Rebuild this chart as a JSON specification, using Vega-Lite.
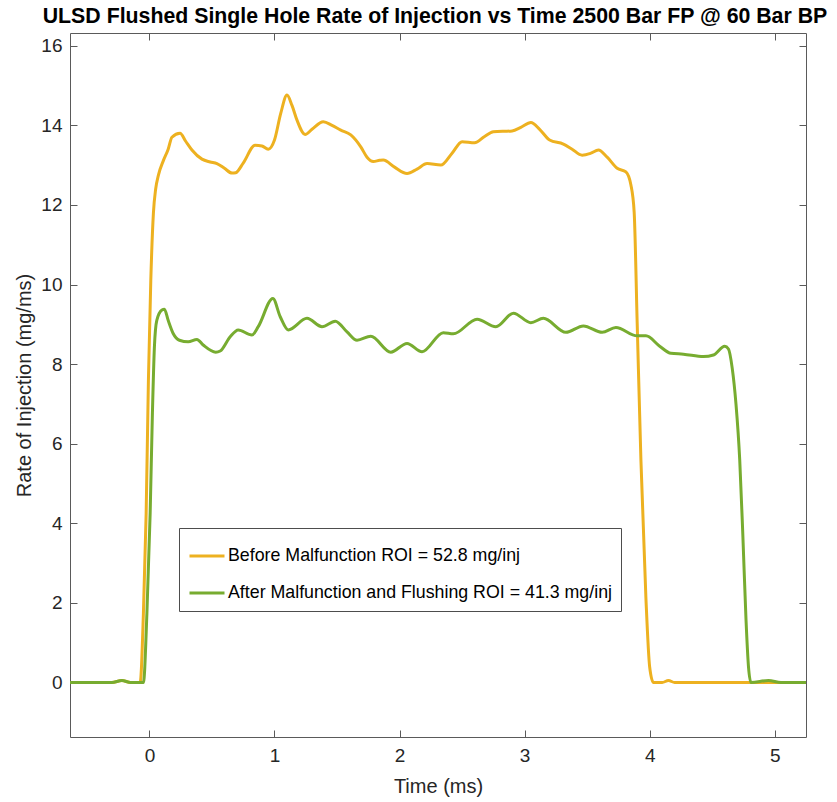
{
  "$schema": "https://vega.github.io/schema/vega-lite/v6.json",
  "width": 736,
  "height": 704,
  "autosize": {"type": "none"},
  "padding": {"left": 70, "top": 33, "right": 31, "bottom": 65},
  "background": "white",
  "title": {
    "text": "ULSD Flushed Single Hole Rate of Injection vs Time 2500 Bar FP @ 60 Bar BP",
    "font": "Liberation Sans",
    "fontSize": 21.3,
    "fontWeight": "bold",
    "color": "#000000",
    "anchor": "middle",
    "dx": -3,
    "offset": 5
  },
  "data": {
    "values": [
      {"series": "Before Malfunction ROI = 52.8 mg/inj", "t": -0.635, "rate": 0},
      {"series": "Before Malfunction ROI = 52.8 mg/inj", "t": -0.3, "rate": 0},
      {"series": "Before Malfunction ROI = 52.8 mg/inj", "t": -0.22, "rate": 0.05},
      {"series": "Before Malfunction ROI = 52.8 mg/inj", "t": -0.15, "rate": 0},
      {"series": "Before Malfunction ROI = 52.8 mg/inj", "t": -0.074, "rate": 0},
      {"series": "Before Malfunction ROI = 52.8 mg/inj", "t": -0.048, "rate": 1.74},
      {"series": "Before Malfunction ROI = 52.8 mg/inj", "t": -0.026, "rate": 4.26},
      {"series": "Before Malfunction ROI = 52.8 mg/inj", "t": -0.008, "rate": 7.6},
      {"series": "Before Malfunction ROI = 52.8 mg/inj", "t": 0.011, "rate": 10.1},
      {"series": "Before Malfunction ROI = 52.8 mg/inj", "t": 0.032, "rate": 11.8},
      {"series": "Before Malfunction ROI = 52.8 mg/inj", "t": 0.05, "rate": 12.4},
      {"series": "Before Malfunction ROI = 52.8 mg/inj", "t": 0.072, "rate": 12.75},
      {"series": "Before Malfunction ROI = 52.8 mg/inj", "t": 0.11, "rate": 13.1},
      {"series": "Before Malfunction ROI = 52.8 mg/inj", "t": 0.15, "rate": 13.4},
      {"series": "Before Malfunction ROI = 52.8 mg/inj", "t": 0.18, "rate": 13.7},
      {"series": "Before Malfunction ROI = 52.8 mg/inj", "t": 0.245, "rate": 13.8},
      {"series": "Before Malfunction ROI = 52.8 mg/inj", "t": 0.29, "rate": 13.6},
      {"series": "Before Malfunction ROI = 52.8 mg/inj", "t": 0.34, "rate": 13.38},
      {"series": "Before Malfunction ROI = 52.8 mg/inj", "t": 0.42, "rate": 13.15},
      {"series": "Before Malfunction ROI = 52.8 mg/inj", "t": 0.486, "rate": 13.08},
      {"series": "Before Malfunction ROI = 52.8 mg/inj", "t": 0.54, "rate": 13.04},
      {"series": "Before Malfunction ROI = 52.8 mg/inj", "t": 0.6, "rate": 12.92},
      {"series": "Before Malfunction ROI = 52.8 mg/inj", "t": 0.66, "rate": 12.8},
      {"series": "Before Malfunction ROI = 52.8 mg/inj", "t": 0.69, "rate": 12.81},
      {"series": "Before Malfunction ROI = 52.8 mg/inj", "t": 0.75, "rate": 13.05},
      {"series": "Before Malfunction ROI = 52.8 mg/inj", "t": 0.845, "rate": 13.5},
      {"series": "Before Malfunction ROI = 52.8 mg/inj", "t": 0.9, "rate": 13.48},
      {"series": "Before Malfunction ROI = 52.8 mg/inj", "t": 0.95, "rate": 13.4},
      {"series": "Before Malfunction ROI = 52.8 mg/inj", "t": 1.0, "rate": 13.63},
      {"series": "Before Malfunction ROI = 52.8 mg/inj", "t": 1.05, "rate": 14.3},
      {"series": "Before Malfunction ROI = 52.8 mg/inj", "t": 1.1, "rate": 14.76},
      {"series": "Before Malfunction ROI = 52.8 mg/inj", "t": 1.14, "rate": 14.5},
      {"series": "Before Malfunction ROI = 52.8 mg/inj", "t": 1.18, "rate": 14.13},
      {"series": "Before Malfunction ROI = 52.8 mg/inj", "t": 1.245, "rate": 13.77},
      {"series": "Before Malfunction ROI = 52.8 mg/inj", "t": 1.3, "rate": 13.9},
      {"series": "Before Malfunction ROI = 52.8 mg/inj", "t": 1.39, "rate": 14.09},
      {"series": "Before Malfunction ROI = 52.8 mg/inj", "t": 1.46, "rate": 14.0},
      {"series": "Before Malfunction ROI = 52.8 mg/inj", "t": 1.53, "rate": 13.88},
      {"series": "Before Malfunction ROI = 52.8 mg/inj", "t": 1.61, "rate": 13.76},
      {"series": "Before Malfunction ROI = 52.8 mg/inj", "t": 1.69, "rate": 13.46},
      {"series": "Before Malfunction ROI = 52.8 mg/inj", "t": 1.74, "rate": 13.2},
      {"series": "Before Malfunction ROI = 52.8 mg/inj", "t": 1.79, "rate": 13.09},
      {"series": "Before Malfunction ROI = 52.8 mg/inj", "t": 1.84, "rate": 13.12},
      {"series": "Before Malfunction ROI = 52.8 mg/inj", "t": 1.87, "rate": 13.13},
      {"series": "Before Malfunction ROI = 52.8 mg/inj", "t": 1.96, "rate": 12.95},
      {"series": "Before Malfunction ROI = 52.8 mg/inj", "t": 2.06, "rate": 12.79},
      {"series": "Before Malfunction ROI = 52.8 mg/inj", "t": 2.14, "rate": 12.9},
      {"series": "Before Malfunction ROI = 52.8 mg/inj", "t": 2.22, "rate": 13.04},
      {"series": "Before Malfunction ROI = 52.8 mg/inj", "t": 2.33, "rate": 13.0},
      {"series": "Before Malfunction ROI = 52.8 mg/inj", "t": 2.42, "rate": 13.3},
      {"series": "Before Malfunction ROI = 52.8 mg/inj", "t": 2.5, "rate": 13.59},
      {"series": "Before Malfunction ROI = 52.8 mg/inj", "t": 2.6, "rate": 13.56},
      {"series": "Before Malfunction ROI = 52.8 mg/inj", "t": 2.68, "rate": 13.72},
      {"series": "Before Malfunction ROI = 52.8 mg/inj", "t": 2.75, "rate": 13.84},
      {"series": "Before Malfunction ROI = 52.8 mg/inj", "t": 2.9, "rate": 13.86},
      {"series": "Before Malfunction ROI = 52.8 mg/inj", "t": 2.97, "rate": 13.95},
      {"series": "Before Malfunction ROI = 52.8 mg/inj", "t": 3.05, "rate": 14.07},
      {"series": "Before Malfunction ROI = 52.8 mg/inj", "t": 3.12, "rate": 13.9},
      {"series": "Before Malfunction ROI = 52.8 mg/inj", "t": 3.2, "rate": 13.63},
      {"series": "Before Malfunction ROI = 52.8 mg/inj", "t": 3.31, "rate": 13.53},
      {"series": "Before Malfunction ROI = 52.8 mg/inj", "t": 3.38, "rate": 13.4},
      {"series": "Before Malfunction ROI = 52.8 mg/inj", "t": 3.46, "rate": 13.25},
      {"series": "Before Malfunction ROI = 52.8 mg/inj", "t": 3.53, "rate": 13.3},
      {"series": "Before Malfunction ROI = 52.8 mg/inj", "t": 3.59, "rate": 13.38},
      {"series": "Before Malfunction ROI = 52.8 mg/inj", "t": 3.66, "rate": 13.2},
      {"series": "Before Malfunction ROI = 52.8 mg/inj", "t": 3.74, "rate": 12.92},
      {"series": "Before Malfunction ROI = 52.8 mg/inj", "t": 3.81, "rate": 12.83},
      {"series": "Before Malfunction ROI = 52.8 mg/inj", "t": 3.85, "rate": 12.5},
      {"series": "Before Malfunction ROI = 52.8 mg/inj", "t": 3.876, "rate": 11.82},
      {"series": "Before Malfunction ROI = 52.8 mg/inj", "t": 3.9, "rate": 9.05},
      {"series": "Before Malfunction ROI = 52.8 mg/inj", "t": 3.93, "rate": 5.59},
      {"series": "Before Malfunction ROI = 52.8 mg/inj", "t": 3.97, "rate": 2.12},
      {"series": "Before Malfunction ROI = 52.8 mg/inj", "t": 4.0, "rate": 0.39},
      {"series": "Before Malfunction ROI = 52.8 mg/inj", "t": 4.03, "rate": 0},
      {"series": "Before Malfunction ROI = 52.8 mg/inj", "t": 4.1, "rate": 0},
      {"series": "Before Malfunction ROI = 52.8 mg/inj", "t": 4.15, "rate": 0.05},
      {"series": "Before Malfunction ROI = 52.8 mg/inj", "t": 4.2, "rate": 0},
      {"series": "Before Malfunction ROI = 52.8 mg/inj", "t": 5.25, "rate": 0},
      {"series": "After Malfunction and Flushing ROI = 41.3 mg/inj", "t": -0.635, "rate": 0},
      {"series": "After Malfunction and Flushing ROI = 41.3 mg/inj", "t": -0.3, "rate": 0},
      {"series": "After Malfunction and Flushing ROI = 41.3 mg/inj", "t": -0.22, "rate": 0.05},
      {"series": "After Malfunction and Flushing ROI = 41.3 mg/inj", "t": -0.15, "rate": 0},
      {"series": "After Malfunction and Flushing ROI = 41.3 mg/inj", "t": -0.048, "rate": 0},
      {"series": "After Malfunction and Flushing ROI = 41.3 mg/inj", "t": -0.02, "rate": 1.74},
      {"series": "After Malfunction and Flushing ROI = 41.3 mg/inj", "t": 0.006, "rate": 4.26},
      {"series": "After Malfunction and Flushing ROI = 41.3 mg/inj", "t": 0.024, "rate": 6.77},
      {"series": "After Malfunction and Flushing ROI = 41.3 mg/inj", "t": 0.04, "rate": 8.44},
      {"series": "After Malfunction and Flushing ROI = 41.3 mg/inj", "t": 0.059, "rate": 9.1},
      {"series": "After Malfunction and Flushing ROI = 41.3 mg/inj", "t": 0.1, "rate": 9.36},
      {"series": "After Malfunction and Flushing ROI = 41.3 mg/inj", "t": 0.12, "rate": 9.38},
      {"series": "After Malfunction and Flushing ROI = 41.3 mg/inj", "t": 0.15, "rate": 9.1},
      {"series": "After Malfunction and Flushing ROI = 41.3 mg/inj", "t": 0.19, "rate": 8.77},
      {"series": "After Malfunction and Flushing ROI = 41.3 mg/inj", "t": 0.24, "rate": 8.6},
      {"series": "After Malfunction and Flushing ROI = 41.3 mg/inj", "t": 0.31, "rate": 8.56},
      {"series": "After Malfunction and Flushing ROI = 41.3 mg/inj", "t": 0.38, "rate": 8.62},
      {"series": "After Malfunction and Flushing ROI = 41.3 mg/inj", "t": 0.43, "rate": 8.48},
      {"series": "After Malfunction and Flushing ROI = 41.3 mg/inj", "t": 0.53, "rate": 8.3},
      {"series": "After Malfunction and Flushing ROI = 41.3 mg/inj", "t": 0.566, "rate": 8.33},
      {"series": "After Malfunction and Flushing ROI = 41.3 mg/inj", "t": 0.646, "rate": 8.69},
      {"series": "After Malfunction and Flushing ROI = 41.3 mg/inj", "t": 0.71, "rate": 8.86},
      {"series": "After Malfunction and Flushing ROI = 41.3 mg/inj", "t": 0.82, "rate": 8.73},
      {"series": "After Malfunction and Flushing ROI = 41.3 mg/inj", "t": 0.87, "rate": 8.94},
      {"series": "After Malfunction and Flushing ROI = 41.3 mg/inj", "t": 0.987, "rate": 9.65},
      {"series": "After Malfunction and Flushing ROI = 41.3 mg/inj", "t": 1.046, "rate": 9.19},
      {"series": "After Malfunction and Flushing ROI = 41.3 mg/inj", "t": 1.11, "rate": 8.86},
      {"series": "After Malfunction and Flushing ROI = 41.3 mg/inj", "t": 1.26, "rate": 9.15},
      {"series": "After Malfunction and Flushing ROI = 41.3 mg/inj", "t": 1.38, "rate": 8.94},
      {"series": "After Malfunction and Flushing ROI = 41.3 mg/inj", "t": 1.486, "rate": 9.08},
      {"series": "After Malfunction and Flushing ROI = 41.3 mg/inj", "t": 1.58, "rate": 8.81},
      {"series": "After Malfunction and Flushing ROI = 41.3 mg/inj", "t": 1.66, "rate": 8.6},
      {"series": "After Malfunction and Flushing ROI = 41.3 mg/inj", "t": 1.77, "rate": 8.7},
      {"series": "After Malfunction and Flushing ROI = 41.3 mg/inj", "t": 1.93, "rate": 8.3},
      {"series": "After Malfunction and Flushing ROI = 41.3 mg/inj", "t": 2.06, "rate": 8.52},
      {"series": "After Malfunction and Flushing ROI = 41.3 mg/inj", "t": 2.18, "rate": 8.31},
      {"series": "After Malfunction and Flushing ROI = 41.3 mg/inj", "t": 2.35, "rate": 8.79},
      {"series": "After Malfunction and Flushing ROI = 41.3 mg/inj", "t": 2.43, "rate": 8.76},
      {"series": "After Malfunction and Flushing ROI = 41.3 mg/inj", "t": 2.62, "rate": 9.13},
      {"series": "After Malfunction and Flushing ROI = 41.3 mg/inj", "t": 2.77, "rate": 8.94},
      {"series": "After Malfunction and Flushing ROI = 41.3 mg/inj", "t": 2.91, "rate": 9.28},
      {"series": "After Malfunction and Flushing ROI = 41.3 mg/inj", "t": 3.05, "rate": 9.04},
      {"series": "After Malfunction and Flushing ROI = 41.3 mg/inj", "t": 3.15, "rate": 9.15},
      {"series": "After Malfunction and Flushing ROI = 41.3 mg/inj", "t": 3.33, "rate": 8.8},
      {"series": "After Malfunction and Flushing ROI = 41.3 mg/inj", "t": 3.47, "rate": 8.96},
      {"series": "After Malfunction and Flushing ROI = 41.3 mg/inj", "t": 3.62, "rate": 8.8},
      {"series": "After Malfunction and Flushing ROI = 41.3 mg/inj", "t": 3.73, "rate": 8.92},
      {"series": "After Malfunction and Flushing ROI = 41.3 mg/inj", "t": 3.9, "rate": 8.71},
      {"series": "After Malfunction and Flushing ROI = 41.3 mg/inj", "t": 3.97, "rate": 8.71},
      {"series": "After Malfunction and Flushing ROI = 41.3 mg/inj", "t": 4.08, "rate": 8.45},
      {"series": "After Malfunction and Flushing ROI = 41.3 mg/inj", "t": 4.17, "rate": 8.27},
      {"series": "After Malfunction and Flushing ROI = 41.3 mg/inj", "t": 4.27, "rate": 8.25},
      {"series": "After Malfunction and Flushing ROI = 41.3 mg/inj", "t": 4.43, "rate": 8.19},
      {"series": "After Malfunction and Flushing ROI = 41.3 mg/inj", "t": 4.51, "rate": 8.23},
      {"series": "After Malfunction and Flushing ROI = 41.3 mg/inj", "t": 4.6, "rate": 8.45},
      {"series": "After Malfunction and Flushing ROI = 41.3 mg/inj", "t": 4.63, "rate": 8.38},
      {"series": "After Malfunction and Flushing ROI = 41.3 mg/inj", "t": 4.66, "rate": 7.9},
      {"series": "After Malfunction and Flushing ROI = 41.3 mg/inj", "t": 4.69, "rate": 7.0},
      {"series": "After Malfunction and Flushing ROI = 41.3 mg/inj", "t": 4.72, "rate": 5.6},
      {"series": "After Malfunction and Flushing ROI = 41.3 mg/inj", "t": 4.745, "rate": 3.7},
      {"series": "After Malfunction and Flushing ROI = 41.3 mg/inj", "t": 4.77, "rate": 1.6},
      {"series": "After Malfunction and Flushing ROI = 41.3 mg/inj", "t": 4.79, "rate": 0.4},
      {"series": "After Malfunction and Flushing ROI = 41.3 mg/inj", "t": 4.81, "rate": 0},
      {"series": "After Malfunction and Flushing ROI = 41.3 mg/inj", "t": 4.95, "rate": 0.05},
      {"series": "After Malfunction and Flushing ROI = 41.3 mg/inj", "t": 5.05, "rate": 0},
      {"series": "After Malfunction and Flushing ROI = 41.3 mg/inj", "t": 5.25, "rate": 0}
    ]
  },
  "layer": [
    {
      "mark": {"type": "line", "strokeWidth": 3, "interpolate": "monotone", "clip": true},
      "encoding": {
        "x": {
          "field": "t", "type": "quantitative",
          "scale": {"domain": [-0.635, 5.25], "nice": false, "zero": false},
          "axis": {"orient": "bottom", "values": [0, 1, 2, 3, 4, 5], "title": "Time (ms)", "labelPadding": 16, "titlePadding": 11}
        },
        "y": {
          "field": "rate", "type": "quantitative",
          "scale": {"domain": [-1.37, 16.32], "nice": false, "zero": false},
          "axis": {"orient": "left", "values": [0, 2, 4, 6, 8, 10, 12, 14, 16], "title": "Rate of Injection (mg/ms)", "labelPadding": 15, "titlePadding": 6}
        },
        "color": {
          "field": "series", "type": "nominal", "sort": null,
          "scale": {
            "domain": ["Before Malfunction ROI = 52.8 mg/inj", "After Malfunction and Flushing ROI = 41.3 mg/inj"],
            "range": ["#EDB120", "#77AC30"]
          },
          "legend": {"title": null}
        }
      }
    },
    {
      "mark": {"type": "point", "opacity": 0},
      "encoding": {
        "x": {"field": "t", "type": "quantitative", "axis": {"orient": "top", "values": [0, 1, 2, 3, 4, 5], "labels": false, "title": null}},
        "y": {"field": "rate", "type": "quantitative", "axis": {"orient": "right", "values": [0, 2, 4, 6, 8, 10, 12, 14, 16], "labels": false, "title": null}}
      }
    }
  ],
  "resolve": {"axis": {"x": "independent", "y": "independent"}},
  "config": {
    "font": "Liberation Sans",
    "view": {"stroke": "#5a5a5a", "strokeWidth": 1},
    "axis": {
      "domain": false,
      "grid": false,
      "ticks": true,
      "tickSize": -7,
      "tickColor": "#5a5a5a",
      "tickWidth": 1,
      "labelFont": "Liberation Sans",
      "labelFontSize": 19,
      "labelColor": "#262626",
      "titleFont": "Liberation Sans",
      "titleFontSize": 20,
      "titleFontWeight": "normal",
      "titleColor": "#262626"
    },
    "legend": {
      "orient": "none",
      "legendX": 109,
      "legendY": 495,
      "strokeColor": "#4d4d4d",
      "fillColor": "white",
      "padding": 9,
      "symbolType": "stroke",
      "symbolSize": 1225,
      "symbolStrokeWidth": 3,
      "labelFont": "Liberation Sans",
      "labelFontSize": 17.8,
      "labelColor": "#000000",
      "labelLimit": 1000,
      "labelOffset": 2,
      "rowPadding": 9,
      "cornerRadius": 0
    }
  }
}
